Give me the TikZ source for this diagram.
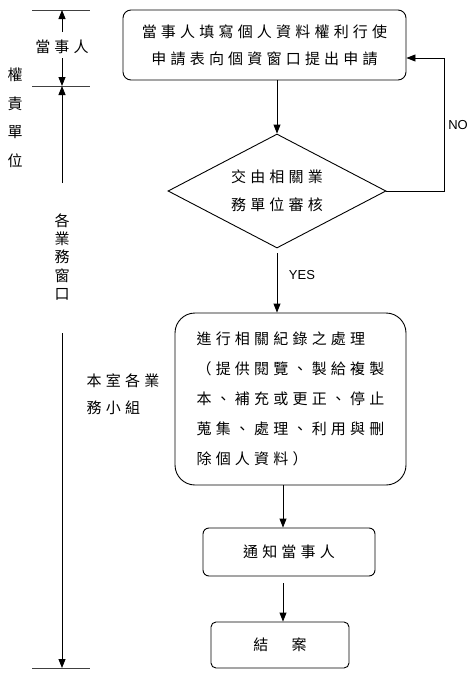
\documentclass[tikz,border=0pt]{standalone}
\usepackage{fontspec}
\setmainfont{Liberation Sans}
\newfontfamily\cjk[LetterSpace=28]{Noto Sans CJK TC}
\newfontfamily\cjkn{Noto Sans CJK TC}
\usetikzlibrary{shapes.geometric,arrows.meta}
\begin{document}
\begin{tikzpicture}[x=1pt,y=-1pt,
  every node/.style={inner sep=0pt},
  box/.style={draw, line width=0.9pt, rounded corners=8pt, align=center, font=\cjk\fontsize{15}{27}\selectfont},
  arr/.style={-{Triangle[length=9pt,width=7pt]}, line width=0.9pt},
  rule/.style={line width=0.8pt, draw=black!75},
  side/.style={font=\cjk\fontsize{15}{27}\selectfont},
  lbl/.style={font=\fontsize{13}{13}\selectfont}]
\useasboundingbox (0,0) rectangle (475,688);
\fill[white] (0,0) rectangle (475,688);
% main flow
\node[box, minimum width=283pt, minimum height=70pt] (b1) at (264.5,45) {當事人填寫個人資料權利行使\\申請表向個資窗口提出申請};
\node[draw, diamond, line width=0.9pt, minimum width=218pt, minimum height=114pt, aspect=1.9, align=center, font=\cjk\fontsize{15}{28}\selectfont] (d) at (277,191) {交由相關業\\務單位審核};
\node[box, rounded corners=20pt, minimum width=231pt, minimum height=172pt, align=left, font=\cjk\fontsize{15}{30}\selectfont] (b2) at (290.5,399) {進行相關紀錄之處理\\（提供閱覽、製給複製\\本、補充或更正、停止\\蒐集、處理、利用與刪\\除個人資料）};
\node[box, rounded corners=6pt, minimum width=172pt, minimum height=48pt] (b3) at (289,552) {通知當事人};
\node[box, rounded corners=5pt, minimum width=138pt, minimum height=46pt] (b4) at (280,645) {結　案};
\coordinate (noc) at (444,58);
\coordinate (cx) at (283,0);
\draw[arr] (b1.south -| d.north) -- (d.north);
\draw[arr] (d.east) -| (noc) -- (noc -| b1.east);
\node[lbl] (no) at (458,125) {NO};
\draw[arr, shorten <=5pt] (d.south) -- (d.south |- b2.north);
\node[lbl] (yes) at (302,275) {YES};
\draw[arr] (b2.south -| cx) -- (b3.north -| cx);
\draw[arr, shorten <=7pt] (b3.south -| cx) -- (b4.north -| cx);
% left annotation
\coordinate (h1l) at (32,10); \coordinate (h1r) at (90,10);
\coordinate (h2l) at (32,86); \coordinate (h2r) at (90,86);
\coordinate (h3l) at (32,668); \coordinate (h3r) at (90,668);
\draw[rule] (h1l) -- (h1r);
\draw[rule] (h2l) -- (h2r);
\draw[rule] (h3l) -- (h3r);
\coordinate (a1) at (62,32); \coordinate (a2) at (62,58);
\coordinate (a3) at (62,183); \coordinate (a4) at (62,333);
\draw[arr] (a1) -- (h1l -| a1);
\draw[arr] (a2) -- (h2l -| a2);
\draw[arr] (a3) -- (h2l -| a3);
\draw[arr] (a4) -- (h3l -| a4);
\node[side] (s1) at (62,47) {當事人};
\node[align=center, font=\cjkn\fontsize{15}{28.5}\selectfont] (s2) at (15,118) {權\\責\\單\\位};
\node[align=center, font=\cjkn\fontsize{15}{18.3}\selectfont] (s3) at (62,257) {各\\業\\務\\窗\\口};
\node[side, align=left] (s4) at (123,394.5) {本室各業\\務小組};
\end{tikzpicture}
\end{document}
